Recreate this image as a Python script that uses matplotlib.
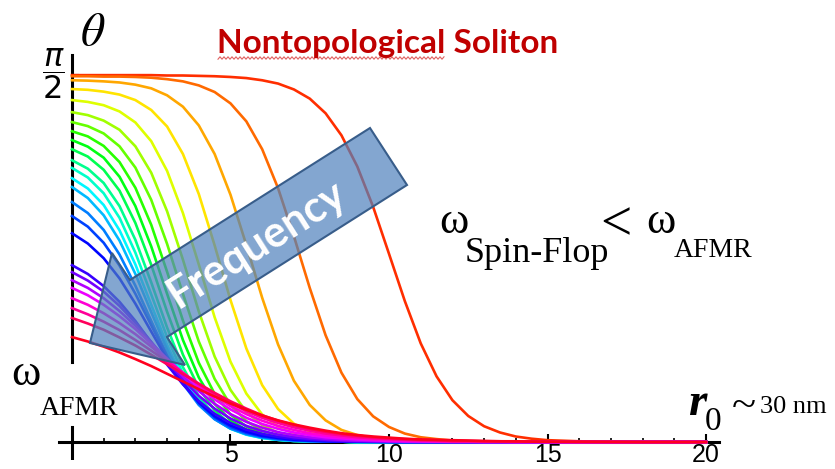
import colorsys
import numpy as np
import matplotlib
matplotlib.use('Agg')
import matplotlib.pyplot as plt
from matplotlib.patches import Polygon
from matplotlib.lines import Line2D
from matplotlib.ticker import MultipleLocator

# radius r0 (sample points)
r = [0, 0.5, 1, 1.5, 2, 2.5, 3, 3.5, 4, 4.5, 5, 5.5, 6, 6.5, 7, 7.5, 8, 8.5, 9, 9.5,
     10, 10.5, 11, 11.5, 12, 12.5, 13, 13.5, 14, 14.5, 15, 16, 18, 20]

# theta(r) for each frequency, in thousandths of pi/2 (top curve first)
c00 = [1000, 1000, 1000, 1000, 1000, 1000, 999, 999, 998, 997, 995, 992, 986, 977, 961, 936, 896, 836, 751, 641,
       513, 384, 269, 179, 114, 71, 43, 26, 15, 9, 5, 2, 0, 0]
c01 = [997, 997, 996, 996, 995, 993, 989, 983, 972, 954, 923, 874, 798, 692, 561, 420, 291, 189, 117, 70,
       41, 23, 13, 8, 4, 2, 1, 1, 0, 0, 0, 0, 0, 0]
c02 = [986, 985, 983, 980, 974, 964, 945, 914, 863, 785, 674, 537, 393, 266, 167, 101, 59, 33, 19, 11,
       6, 3, 2, 1, 1, 0, 0, 0, 0, 0, 0, 0, 0, 0]
c03 = [962, 960, 955, 947, 932, 905, 860, 785, 676, 536, 387, 255, 155, 90, 50, 28, 15, 8, 4, 2,
       1, 1, 0, 0, 0, 0, 0, 0, 0, 0, 0, 0, 0, 0]
c04 = [932, 927, 918, 901, 871, 820, 739, 624, 484, 340, 219, 132, 75, 42, 23, 12, 7, 4, 2, 1,
       1, 0, 0, 0, 0, 0, 0, 0, 0, 0, 0, 0, 0, 0]
c05 = [899, 891, 876, 851, 806, 734, 629, 497, 356, 233, 142, 82, 46, 25, 14, 7, 4, 2, 1, 1,
       0, 0, 0, 0, 0, 0, 0, 0, 0, 0, 0, 0, 0, 0]
c06 = [872, 861, 841, 806, 748, 660, 540, 404, 274, 172, 101, 57, 31, 17, 9, 5, 3, 1, 1, 0,
       0, 0, 0, 0, 0, 0, 0, 0, 0, 0, 0, 0, 0, 0]
c07 = [847, 833, 807, 763, 693, 592, 464, 331, 216, 131, 75, 42, 23, 12, 7, 4, 2, 1, 1, 0,
       0, 0, 0, 0, 0, 0, 0, 0, 0, 0, 0, 0, 0, 0]
c08 = [823, 805, 775, 723, 643, 533, 404, 278, 176, 104, 59, 33, 18, 10, 5, 3, 1, 1, 0, 0,
       0, 0, 0, 0, 0, 0, 0, 0, 0, 0, 0, 0, 0, 0]
c09 = [798, 778, 742, 685, 597, 483, 355, 238, 147, 86, 48, 27, 14, 8, 4, 2, 1, 1, 0, 0,
       0, 0, 0, 0, 0, 0, 0, 0, 0, 0, 0, 0, 0, 0]
c10 = [768, 745, 706, 643, 551, 435, 312, 204, 124, 72, 40, 22, 12, 6, 3, 2, 1, 1, 0, 0,
       0, 0, 0, 0, 0, 0, 0, 0, 0, 0, 0, 0, 0, 0]
c11 = [747, 721, 678, 611, 516, 402, 286, 186, 114, 66, 37, 21, 11, 6, 3, 2, 1, 1, 0, 0,
       0, 0, 0, 0, 0, 0, 0, 0, 0, 0, 0, 0, 0, 0]
c12 = [719, 691, 646, 577, 484, 374, 265, 173, 106, 63, 36, 20, 11, 6, 3, 2, 1, 1, 0, 0,
       0, 0, 0, 0, 0, 0, 0, 0, 0, 0, 0, 0, 0, 0]
c13 = [695, 665, 618, 549, 458, 354, 252, 167, 104, 63, 37, 21, 12, 7, 4, 2, 1, 1, 0, 0,
       0, 0, 0, 0, 0, 0, 0, 0, 0, 0, 0, 0, 0, 0]
c14 = [654, 624, 578, 511, 426, 330, 237, 159, 101, 62, 37, 22, 13, 7, 4, 2, 1, 1, 0, 0,
       0, 0, 0, 0, 0, 0, 0, 0, 0, 0, 0, 0, 0, 0]
c15 = [616, 587, 543, 481, 404, 318, 234, 161, 106, 67, 41, 25, 15, 9, 5, 3, 2, 1, 1, 0,
       0, 0, 0, 0, 0, 0, 0, 0, 0, 0, 0, 0, 0, 0]
c16 = [569, 541, 501, 446, 377, 301, 226, 160, 108, 70, 45, 28, 17, 11, 6, 4, 2, 1, 1, 1,
       0, 0, 0, 0, 0, 0, 0, 0, 0, 0, 0, 0, 0, 0]
c17 = [482, 458, 425, 382, 330, 271, 211, 157, 112, 77, 52, 34, 22, 14, 9, 6, 4, 2, 1, 1,
       1, 0, 0, 0, 0, 0, 0, 0, 0, 0, 0, 0, 0, 0]
c18 = [463, 440, 410, 371, 325, 273, 220, 170, 126, 91, 64, 44, 30, 20, 13, 9, 6, 4, 3, 2,
       1, 1, 0, 0, 0, 0, 0, 0, 0, 0, 0, 0, 0, 0]
c19 = [441, 420, 392, 357, 317, 271, 225, 179, 139, 104, 76, 55, 39, 27, 19, 13, 9, 6, 4, 3,
       2, 1, 1, 1, 0, 0, 0, 0, 0, 0, 0, 0, 0, 0]
c20 = [420, 400, 374, 343, 308, 268, 227, 187, 149, 116, 89, 66, 49, 36, 26, 19, 13, 10, 7, 5,
       3, 2, 2, 1, 1, 1, 0, 0, 0, 0, 0, 0, 0, 0]
c21 = [392, 374, 351, 324, 294, 260, 224, 189, 155, 125, 98, 76, 58, 44, 33, 24, 18, 13, 10, 7,
       5, 4, 3, 2, 1, 1, 1, 1, 0, 0, 0, 0, 0, 0]
c22 = [365, 348, 328, 305, 278, 249, 219, 188, 158, 131, 106, 84, 66, 52, 40, 31, 23, 18, 13, 10,
       8, 6, 4, 3, 2, 2, 1, 1, 1, 1, 0, 0, 0, 0]
c23 = [338, 323, 306, 285, 263, 238, 212, 185, 159, 134, 111, 91, 73, 58, 46, 36, 28, 22, 17, 13,
       10, 8, 6, 5, 3, 3, 2, 2, 1, 1, 1, 0, 0, 0]
c24 = [286, 274, 260, 244, 226, 207, 186, 165, 144, 124, 105, 88, 72, 59, 48, 39, 31, 24, 19, 15,
       12, 9, 7, 6, 5, 4, 3, 2, 2, 1, 1, 1, 0, 0]

curves = [c00, c01, c02, c03, c04, c05, c06, c07, c08, c09, c10, c11, c12,
          c13, c14, c15, c16, c17, c18, c19, c20, c21, c22, c23, c24]

xticks = [5, 10, 15, 20]

W_PX, H_PX = 835, 469


# pixel position -> figure fraction
def fx(x):
    return x / W_PX


def fy(y):
    return 1 - y / H_PX


fig = plt.figure(figsize=(8.35, 4.69), dpi=100)
ax = fig.add_axes([fx(59.3), fy(460), 659.4 / W_PX, 405 / H_PX])
ax.set_xlim(-0.4, 20.4)
ax.set_ylim(-0.077, 1.657)

n = len(curves)
for i, c in enumerate(curves):
    h = 0.03 + i * 0.95 / (n - 1)
    theta = np.array(c) / 1000 * np.pi / 2
    ax.plot(r, theta, color=colorsys.hsv_to_rgb(h, 1, 1), lw=1.9, zorder=3)

for s in ['top', 'right']:
    ax.spines[s].set_visible(False)
ax.spines['left'].set_position(('data', 0))
ax.spines['bottom'].set_position(('data', 0))
ax.spines['left'].set_bounds(0.3425, 1.657)
ax.spines['left'].set_linewidth(2.2)
ax.spines['bottom'].set_linewidth(2.2)
ax.axvline(0, ymin=0, ymax=0.0815, color='black', lw=2.2)

ax.set_xticks(xticks)
ax.xaxis.set_minor_locator(MultipleLocator(1))
ax.tick_params(axis='x', which='major', direction='in', length=6, width=1.5, labelsize=18, pad=1)
ax.tick_params(axis='x', which='minor', direction='in', length=3, width=1.2)
for lab in ax.get_xticklabels():
    lab.set_family('Liberation Sans')
ax.set_yticks([np.pi / 2])
ax.set_yticklabels([''])
ax.tick_params(axis='y', direction='in', length=5, width=1.5)

fig.text(fx(53), fy(74), r'$\dfrac{\pi}{2}$', fontsize=23, ha='center', va='center')
fig.text(fx(93), fy(33), r'$\theta$', fontsize=34, ha='center', va='center', math_fontfamily='stix')

fig.text(fx(388), fy(53), 'Nontopological Soliton', fontsize=24, fontweight='bold', color='#C00000',
         family='Lato', ha='center', va='baseline')
# spell-check squiggle under the first word
zx = np.arange(218, 446, 2)
zy = 58 + 1.2 * (-1) ** np.arange(len(zx))
fig.add_artist(Line2D(fx(zx), fy(zy), transform=fig.transFigure, color='#E06060', lw=0.8))

serif = 'Liberation Serif'
fig.text(fx(454), fy(222), '\u03c9', fontsize=32, family=serif, ha='center', va='center')
fig.text(fx(465), fy(262), 'Spin-Flop', fontsize=26, family=serif, ha='left', va='baseline')
fig.text(fx(616), fy(226), '<', fontsize=40, family=serif, ha='center', va='center')
fig.text(fx(661), fy(222), '\u03c9', fontsize=32, family=serif, ha='center', va='center')
fig.text(fx(674), fy(257), 'AFMR', fontsize=20, family=serif, ha='left', va='baseline')

fig.text(fx(26), fy(374), '\u03c9', fontsize=32, family=serif, ha='center', va='center')
fig.text(fx(40), fy(415), 'AFMR', fontsize=20, family=serif, ha='left', va='baseline')

fig.text(fx(688), fy(415), 'r', fontsize=34, family=serif, style='italic', weight='bold', ha='left', va='baseline')
fig.text(fx(705), fy(430), '0', fontsize=24, family=serif, ha='left', va='baseline')
fig.text(fx(744), fy(407), '~', fontsize=32, family=serif, ha='center', va='center')
fig.text(fx(760), fy(413), '30 nm', fontsize=19, family=serif, ha='left', va='baseline')

# the "Frequency" block arrow
arrow_px = [(370, 128), (407, 185), (167, 337), (185, 365), (90, 343), (112, 253), (130, 280)]
fig.add_artist(Polygon([(fx(x), fy(y)) for x, y in arrow_px], closed=True, transform=fig.transFigure,
                       facecolor=(79 / 255, 129 / 255, 189 / 255, 0.7), edgecolor='#385D8A', lw=1.5))
fig.text(fx(256), fy(244), 'Frequency', rotation=32.3, rotation_mode='anchor', color='white',
         fontweight='bold', family='Lato', fontsize=31, ha='center', va='center')

fig.savefig('out.png', dpi=100)
